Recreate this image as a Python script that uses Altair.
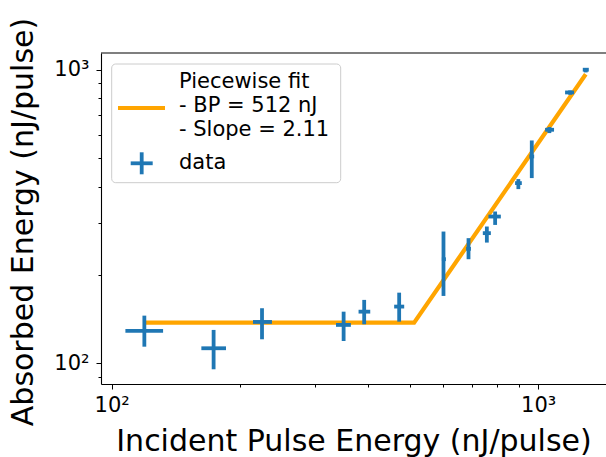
import altair as alt
import pandas as pd

# ---- data ----
x_vals = [119.3, 173.4, 225.2, 349.9, 391.0, 472.3, 600.0, 686.8, 758.3, 793.0, 898.9, 966.5, 1063.0, 1188.5, 1293.5]
x_lo = [107.7, 162.3, 214.5, 335.8, 379.3, 459.7, 594.8, 678.3, 742.0, 764.8, 883.2, 954.0, 1038.5, 1157.0, 1273.0]
x_hi = [132.0, 185.4, 237.6, 363.9, 404.0, 485.3, 607.8, 695.7, 774.9, 817.8, 915.8, 979.0, 1090.0, 1214.6, 1315.0]
y_vals = [128.9, 112.5, 138.3, 135.1, 149.9, 156.0, 226.2, 245.3, 277.5, 316.1, 410.9, 506.3, 624.3, 836.6, 1000.0]
y_lo = [113.9, 95.4, 120.7, 119.1, 135.8, 138.6, 169.6, 226.2, 257.7, 296.0, 392.0, 427.4, 608.3, 821.8, 979.0]
y_hi = [145.3, 129.9, 154.0, 149.9, 164.4, 174.0, 281.0, 266.8, 292.3, 328.8, 424.0, 574.1, 637.6, 850.0, 1013.5]

fit_x = [119.3, 512.0, 1293.5]
fit_y = [137.5, 137.5, 965.0]

x_major = [100, 1000]
x_minor = [200, 300, 400, 500, 600, 700, 800, 900]
y_major = [100, 1000]
y_minor = [90, 200, 300, 400, 500, 600, 700, 800, 900]

legend_fit_lines = ["Piecewise fit", "- BP = 512 nJ", "- Slope = 2.11"]
legend_data_label = "data"

x_title = "Incident Pulse Energy (nJ/pulse)"
y_title = "Absorbed Energy (nJ/pulse)"

# ---- styles ----
BLUE = "#1f77b4"
ORANGE = "#ffa500"
FONT = "DejaVu Sans"
W, H = 505, 331

df = pd.DataFrame({"x": x_vals, "xlo": x_lo, "xhi": x_hi, "y": y_vals, "ylo": y_lo, "yhi": y_hi})
fit = pd.DataFrame({"x": fit_x, "y": fit_y})
one = pd.DataFrame({"a": [0]})

xscale = alt.Scale(type="log", domain=[94.4, 1443], nice=False)
yscale = alt.Scale(type="log", domain=[85.0, 1140], nice=False)

major_test = "datum.value == 100 || datum.value == 1000"
xaxis = alt.Axis(
    values=sorted(x_major + x_minor),
    labelExpr="datum.value == 100 ? '10²' : (datum.value == 1000 ? '10³' : '')",
    tickSize={"condition": {"test": major_test, "value": 5}, "value": 3},
    grid=False, title=x_title, titleFontSize=30, titleFontWeight="normal",
    titleBaseline="alphabetic", titleY=66, titleX=W / 2, labelFontSize=21,
    labelPadding=5, labelFlush=False, labelOverlap=False,
)
yaxis = alt.Axis(
    values=sorted(y_major + y_minor),
    labelExpr="datum.value == 100 ? '10²' : (datum.value == 1000 ? '10³' : '')",
    tickSize={"condition": {"test": major_test, "value": 5}, "value": 3},
    grid=False, title=y_title, titleFontSize=30, titleFontWeight="normal",
    titleBaseline="alphabetic", titleAngle=270, titleX=-69, titleY=H / 2 + 3,
    labelFontSize=21, labelPadding=7, labelFlush=False, labelOverlap=False,
)

X = lambda f: alt.X(f, type="quantitative", scale=xscale, axis=xaxis)
Y = lambda f: alt.Y(f, type="quantitative", scale=yscale, axis=yaxis)

top_spine = alt.Chart(one).mark_rule(color="black", strokeWidth=1.1).encode(
    x=alt.value(0), x2=alt.value(W), y=alt.value(0))

fit_line = alt.Chart(fit).mark_line(color=ORANGE, strokeWidth=4.2).encode(
    x=X("x"), y=Y("y"))

hbars = alt.Chart(df).mark_rule(color=BLUE, strokeWidth=3.8).encode(
    x=X("xlo"), x2="xhi", y=Y("y"))
vbars = alt.Chart(df).mark_rule(color=BLUE, strokeWidth=3.8).encode(
    x=X("x"), y=Y("ylo"), y2="yhi")

# legend (pixel layout inside plot area)
leg_box = alt.Chart(one).mark_rect(fill="white", fillOpacity=0.8, stroke="#cccccc",
                                   strokeWidth=1, cornerRadius=4).encode(
    x=alt.value(10.7), x2=alt.value(239.7), y=alt.value(11), y2=alt.value(129.7))
leg_line = alt.Chart(one).mark_rule(color=ORANGE, strokeWidth=4.2).encode(
    x=alt.value(17), x2=alt.value(64), y=alt.value(55))
leg_texts = []
for i, t in enumerate(legend_fit_lines):
    leg_texts.append(alt.Chart(one).mark_text(align="left", baseline="middle", fontSize=21,
                                              font=FONT, color="black").encode(
        x=alt.value(78), y=alt.value(29 + 24 * i), text=alt.value(t)))
leg_texts.append(alt.Chart(one).mark_text(align="left", baseline="middle", fontSize=21,
                                          font=FONT, color="black").encode(
    x=alt.value(78), y=alt.value(110), text=alt.value(legend_data_label)))
leg_plus_h = alt.Chart(one).mark_rule(color=BLUE, strokeWidth=3.8).encode(
    x=alt.value(29.7), x2=alt.value(51.7), y=alt.value(110.3))
leg_plus_v = alt.Chart(one).mark_rule(color=BLUE, strokeWidth=3.8).encode(
    x=alt.value(40.7), y=alt.value(99.3), y2=alt.value(121.3))

chart = alt.layer(
    fit_line, hbars, vbars, top_spine, leg_box, leg_line, *leg_texts, leg_plus_h, leg_plus_v
).properties(
    width=W, height=H,
    autosize=alt.AutoSizeParams(type="none"),
    padding={"left": 101, "top": 53, "right": 0, "bottom": 73},
).configure_view(stroke=None).configure_axis(
    labelFont=FONT, titleFont=FONT, labelColor="black", titleColor="black",
    domainColor="black", domainWidth=1.1, tickColor="black", tickWidth=1,
)

chart.save("out.html", embed_options={"renderer": "svg", "actions": False})
